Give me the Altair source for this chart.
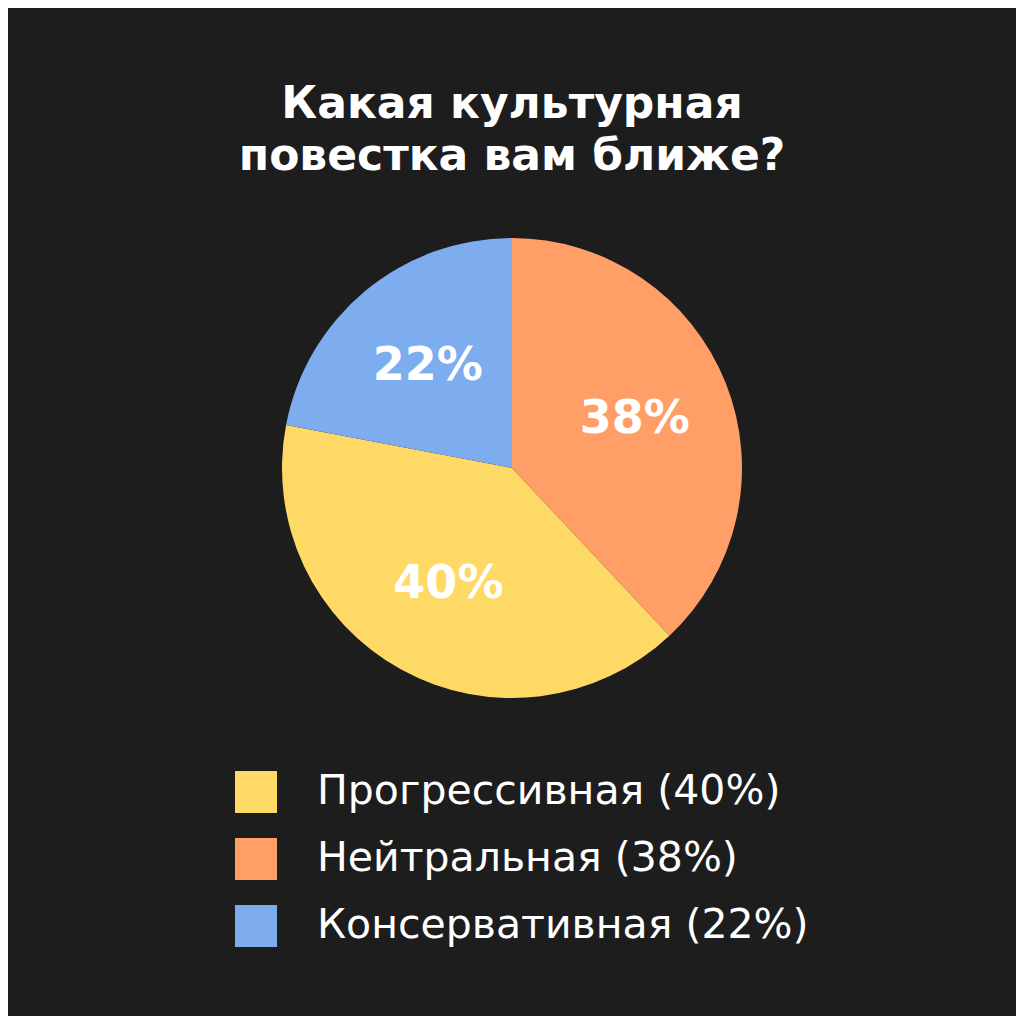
import altair as alt
import pandas as pd

# Data (pie order, clockwise from 12 o'clock)
categories = ["Нейтральная", "Прогрессивная", "Консервативная"]
values = [38, 40, 22]
slice_order = [0, 1, 2]
colors = ["#FF9E66", "#FFD966", "#7EADEF"]
legend_order = ["Прогрессивная", "Нейтральная", "Консервативная"]
title_lines = ["Какая культурная", "повестка вам ближе?"]

df = pd.DataFrame({
    "category": categories,
    "value": values,
    "ord": slice_order,
})
df["legend_label"] = [f"{c} ({v}%)" for c, v in zip(categories, values)]
df["pct"] = [f"{v}%" for v in values]

color_map = dict(zip(categories, colors))
legend_domain = [f"{c} ({values[categories.index(c)]}%)" for c in legend_order]
legend_range = [color_map[c] for c in legend_order]

base = alt.Chart(df).encode(
    theta=alt.Theta("value:Q", stack=True),
    order=alt.Order("ord:Q"),
)

pie = base.mark_arc(outerRadius=230, stroke=None, strokeWidth=0).encode(
    color=alt.Color(
        "legend_label:N",
        scale=alt.Scale(domain=legend_domain, range=legend_range),
        legend=alt.Legend(
            title=None,
            orient="none",
            legendX=227,
            legendY=533,
            symbolType="square",
            symbolSize=1764,
            symbolStrokeWidth=0,
            symbolOpacity=1,
            labelFontSize=41,
            labelFont="DejaVu Sans",
            labelColor="#FFFFFF",
            labelOffset=40,
            rowPadding=25,
            padding=0,
            labelLimit=800,
        ),
    )
)

labels = base.mark_text(
    radius=132,
    font="DejaVu Sans",
    fontWeight="bold",
    fontSize=46,
    color="#FFFFFF",
    align="center",
    baseline="middle",
).encode(text="pct:N")

chart = (
    alt.layer(pie, labels)
    .properties(
        width=1008,
        height=460,
        padding={"left": 0, "top": 230, "right": 0, "bottom": 318},
        autosize=alt.AutoSizeParams(type="none"),
        background="#1D1D1D",
        title=alt.TitleParams(
            text=title_lines,
            anchor="middle",
            orient="top",
            offset=24,
            baseline="alphabetic",
            fontSize=44,
            font="DejaVu Sans",
            fontWeight="bold",
            color="#FFFFFF",
            lineHeight=52,
        ),
    )
    .configure_view(stroke=None)
)

chart.save("out.html", embed_options={"renderer": "svg", "actions": False})
